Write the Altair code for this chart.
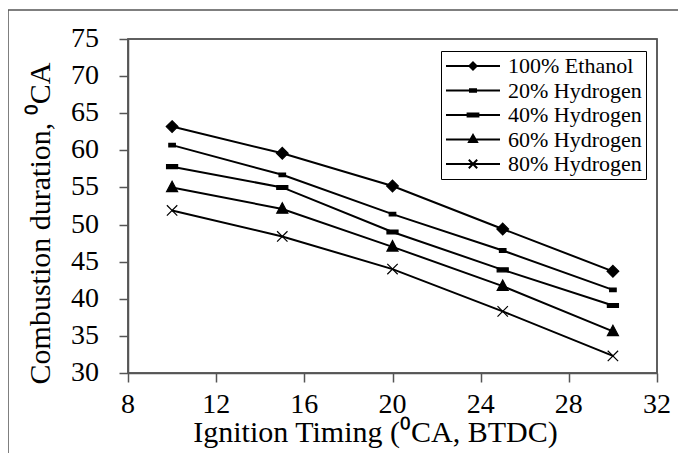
import altair as alt
import pandas as pd

timing = [10, 15, 20, 25, 30]
series_names = ["100% Ethanol", "20% Hydrogen", "40% Hydrogen", "60% Hydrogen", "80% Hydrogen"]
ethanol = [63.2, 59.6, 55.2, 49.4, 43.7]
h20 = [60.7, 56.7, 51.4, 46.5, 41.2]
h40 = [57.8, 55.0, 49.0, 43.9, 39.1]
h60 = [55.0, 52.1, 47.0, 41.7, 35.6]
h80 = [51.9, 48.4, 44.0, 38.3, 32.3]
x_ticks = [8, 12, 16, 20, 24, 28, 32]
y_ticks = [30, 35, 40, 45, 50, 55, 60, 65, 70, 75]
x_domain = [8, 32]
y_domain = [30, 75]

rows = []
for name, vals in zip(series_names, [ethanol, h20, h40, h60, h80]):
    for t, v in zip(timing, vals):
        rows.append({"timing": t, "duration": v, "series": name})
df = pd.DataFrame(rows)
xtick_df = pd.DataFrame({"timing": x_ticks})
ytick_df = pd.DataFrame({"duration": y_ticks})
box_df = pd.DataFrame({"timing": [x_domain[0]], "timing2": [x_domain[1]],
                       "duration": [y_domain[0]], "duration2": [y_domain[1]]})

# marker shapes (unit path, scaled by point size)
plot_shapes = [
    "M0,-0.9L0.9,0L0,0.9L-0.9,0Z",
    "M-0.5,-0.28H0.5V0.28H-0.5Z",
    "M-0.85,-0.3H0.85V0.3H-0.85Z",
    "M0,-0.95L0.85,0.65L-0.85,0.65Z",
    "M-0.8,-0.8L0.8,0.8M-0.8,0.8L0.8,-0.8",
]
# legend symbols: line segment with marker in the middle
L = "M-2.7,0H2.7"
legend_shapes = [
    L + "M0,-0.36L0.36,0L0,0.36L-0.36,0Z",
    L + "M-0.3,-0.12H0.3V0.12H-0.3Z",
    L + "M-0.54,-0.16H0.54V0.16H-0.54Z",
    L + "M0,-0.46L0.4,0.24L-0.4,0.24Z",
    L + "M-0.42,-0.42L0.42,0.42M-0.42,0.42L0.42,-0.42",
]

FONT = "Liberation Serif"
x_axis = alt.Axis(
    values=x_ticks, title="Ignition Timing (⁰CA, BTDC)", grid=False, labels=False,
    titleFont=FONT, titleColor="black", titleFontSize=30, titleFontWeight="normal",
    domainColor="#555", domainWidth=1.5, tickColor="#555", tickWidth=1.5,
    tickSize=9, titleX=247, titleY=44, titleBaseline="top", titleAlign="center",
)
y_axis = alt.Axis(
    values=y_ticks, title="Combustion duration, ⁰CA", grid=False, labels=False,
    titleFont=FONT, titleColor="black", titleFontSize=30, titleFontWeight="normal",
    domainColor="#555", domainWidth=1.5, tickColor="#555", tickWidth=1.5,
    tickSize=9, titleX=-88, titleY=184, titleBaseline="middle",
    titleAlign="center", titleAngle=270,
)
x_scale = alt.Scale(domain=x_domain, nice=False)
y_scale = alt.Scale(domain=y_domain, nice=False, zero=False)
x_enc = alt.X("timing:Q", scale=x_scale, axis=x_axis)
y_enc = alt.Y("duration:Q", scale=y_scale, axis=y_axis)

base = alt.Chart(df)

lines = base.mark_line(color="black", strokeWidth=2).encode(
    x=x_enc, y=y_enc, detail="series:N"
)

points = base.mark_point(
    filled=True, fill="black", stroke="black", strokeWidth=1.2, size=169, opacity=1
).encode(
    x=x_enc, y=y_enc,
    shape=alt.Shape("series:N", scale=alt.Scale(domain=series_names, range=plot_shapes), legend=None),
)

legend_layer = base.mark_point(filled=False, opacity=1).encode(
    x=x_enc, y=y_enc,
    fill=alt.value("black"), stroke=alt.value("black"), strokeWidth=alt.value(2),
    shape=alt.Shape(
        "series:N",
        scale=alt.Scale(domain=series_names, range=legend_shapes),
        legend=alt.Legend(
            title=None, orient="none", legendX=313, legendY=12,
            labelFont=FONT, labelFontSize=22, labelColor="black",
            symbolSize=400, symbolOffset=17, labelOffset=24,
            symbolStrokeWidth=2,
            strokeColor="black", padding=4, rowPadding=2.5, fillColor="white",
            labelLimit=300,
        ),
    ),
).transform_filter("false")

# tick labels drawn as serif text through the axis scales
x_labels = alt.Chart(xtick_df).mark_text(
    font=FONT, fontSize=28, color="black", baseline="top", align="center", dy=0
).encode(x=x_enc, y=alt.value(352), text="timing:Q")
y_labels = alt.Chart(ytick_df).mark_text(
    font=FONT, fontSize=28, color="black", baseline="middle", align="right"
).encode(y=y_enc, x=alt.value(-29), text="duration:Q")

# plot-area box (top and right edges)
box = alt.Chart(box_df).mark_rect(
    filled=False, stroke="#555", strokeWidth=1.5
).encode(
    x=x_enc, x2="timing2:Q", y=y_enc, y2="duration2:Q"
)

frame = alt.Chart(alt.Data(values=[{}])).mark_rect(
    filled=False, stroke="#555", strokeWidth=1.5, clip=False
).encode(
    x=alt.value(-120), x2=alt.value(700), y=alt.value(-29), y2=alt.value(600)
)

chart = alt.layer(box, lines, points, legend_layer, x_labels, y_labels, frame).resolve_scale(
    shape="independent"
).properties(
    width=529, height=334, background="white",
    autosize=alt.AutoSizeParams(type="none"),
    padding={"left": 120, "top": 31, "right": 21, "bottom": 80},
).configure(
    font=FONT,
).configure_view(
    stroke="#555", strokeWidth=1.5
)

chart.save("out.html", embed_options={"renderer": "svg", "actions": False})
